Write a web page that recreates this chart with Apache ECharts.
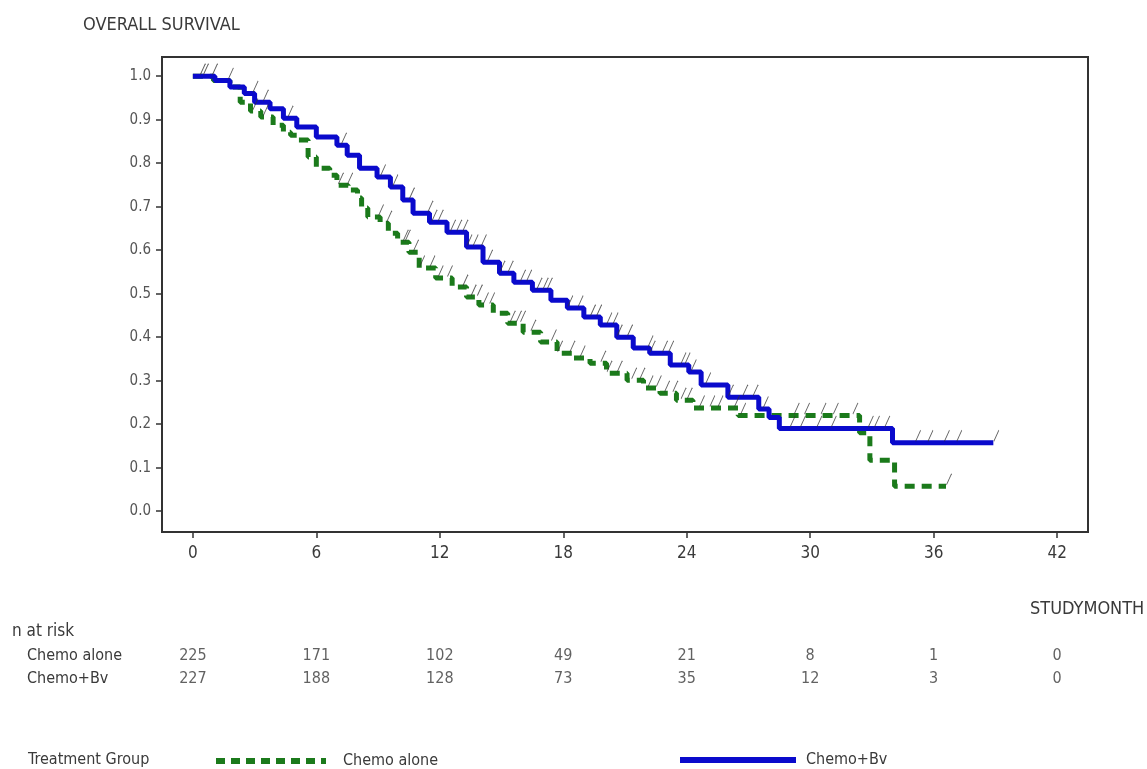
<!DOCTYPE html>
<html>
<head>
<meta charset="utf-8">
<script src="https://cdn.jsdelivr.net/npm/echarts@6/dist/echarts.min.js"></script>
<style>
  html, body { margin: 0; padding: 0; background: #fff; }
  #km { width: 1147px; height: 769px; }
</style>
</head>
<body>
<div id="km"></div>
<script>
// Kaplan-Meier steps: time (months) and survival from that time on
var aloneT = [0, 1.0, 1.8, 2.3, 2.8, 3.3, 3.9, 4.4, 4.75, 5.05, 5.6, 6.0, 6.65, 7.0, 7.55, 8.0, 8.2, 8.5, 9.1, 9.5, 9.95, 10.5, 11.0, 11.8, 12.6, 13.3, 13.9, 14.6, 15.3, 16.05, 16.9, 17.7, 18.5, 19.3, 20.1, 21.1, 21.9, 22.7, 23.5, 24.3, 26.5, 32.4, 32.9, 34.1];
var aloneS = [1.0, 0.99, 0.975, 0.94, 0.92, 0.906, 0.887, 0.871, 0.864, 0.853, 0.814, 0.788, 0.772, 0.749, 0.738, 0.72, 0.697, 0.676, 0.662, 0.639, 0.618, 0.595, 0.559, 0.536, 0.515, 0.492, 0.474, 0.455, 0.432, 0.411, 0.389, 0.363, 0.352, 0.34, 0.317, 0.301, 0.283, 0.271, 0.255, 0.237, 0.22, 0.18, 0.117, 0.057];
var aloneEnd = 36.6;

var bvT = [0, 1.07, 1.8, 2.5, 3.0, 3.75, 4.4, 5.05, 6.0, 7.0, 7.5, 8.1, 8.95, 9.6, 10.2, 10.7, 11.5, 12.35, 13.3, 14.1, 14.9, 15.6, 16.5, 17.4, 18.2, 19.0, 19.8, 20.6, 21.4, 22.2, 23.2, 24.1, 24.7, 26.0, 27.5, 28.0, 28.5, 34.0];
var bvS = [1.0, 0.99, 0.975, 0.96, 0.94, 0.925, 0.903, 0.883, 0.86, 0.841, 0.818, 0.788, 0.768, 0.745, 0.715, 0.685, 0.664, 0.641, 0.607, 0.572, 0.547, 0.526, 0.508, 0.485, 0.467, 0.446, 0.428, 0.4, 0.375, 0.363, 0.336, 0.32, 0.29, 0.262, 0.235, 0.215, 0.19, 0.157];
var bvEnd = 38.9;

// censored times (months)
var aloneCens = [2.9, 3.4, 7.05, 7.5, 9.0, 9.4, 10.2, 10.3, 10.7, 11.0, 11.5, 11.9, 12.35, 13.1, 13.5, 13.8, 14.1, 14.4, 15.4, 15.7, 15.9, 16.4, 17.4, 17.7, 18.3, 18.8, 19.8, 20.1, 20.6, 21.3, 21.7, 22.1, 22.5, 22.9, 23.3, 23.7, 24.0, 24.6, 25.1, 25.5, 26.3, 26.6, 29.2, 29.7, 30.5, 31.1, 32.05, 36.6];
var bvCens = [0.34, 0.49, 0.93, 1.7, 2.9, 3.4, 4.6, 7.2, 9.1, 9.7, 10.5, 11.4, 11.6, 11.9, 12.5, 12.8, 13.1, 13.3, 13.6, 14.0, 14.3, 14.9, 15.3, 15.9, 16.2, 16.7, 17.0, 17.2, 18.2, 18.7, 19.3, 19.6, 20.1, 20.4, 20.6, 21.1, 22.1, 22.2, 22.8, 23.1, 23.7, 23.9, 24.2, 24.9, 26.0, 26.7, 27.2, 27.7, 29.0, 29.5, 30.3, 31.0, 32.8, 33.1, 33.6, 35.1, 35.7, 36.5, 37.1, 38.9];

var xTicks = [0, 6, 12, 18, 24, 30, 36, 42];
var yTicks = [0, 0.1, 0.2, 0.3, 0.4, 0.5, 0.6, 0.7, 0.8, 0.9, 1.0];
var groups = ['Chemo alone', 'Chemo+Bv'];
var atRiskAlone = [225, 171, 102, 49, 21, 8, 1, 0];
var atRiskBv = [227, 188, 128, 73, 35, 12, 3, 0];

var font = '"Liberation Sans Narrow", "DejaVu Sans Condensed", "Liberation Sans", sans-serif';
var ink = '#3a3a3a';
var green = '#1b7a1b';
var blue = '#0a0acc';

function steps(t, s, end) {
    var out = [];
    for (var i = 0; i < t.length; i++) out.push([t[i], s[i]]);
    out.push([end, s[s.length - 1]]);
    return out;
}
function survAt(t, s, x) {
    var v = s[0];
    for (var i = 0; i < t.length; i++) if (t[i] <= x) v = s[i];
    return v;
}
function censData(cens, t, s) {
    return cens.map(function (c) { return [c, survAt(t, s, c)]; });
}
function riskData(counts, row) {
    return counts.map(function (n, i) { return [xTicks[i], row, n]; });
}

var censMark = {
    type: 'scatter',
    symbol: 'path://M0,10L4,0',
    symbolSize: [5, 11],
    symbolOffset: [3, -7],
    itemStyle: { color: 'none', borderColor: '#333', borderWidth: 1 },
    silent: true,
    z: 4
};

var riskLabel = {
    type: 'scatter',
    xAxisIndex: 1,
    yAxisIndex: 1,
    symbolSize: 1,
    itemStyle: { color: 'rgba(0,0,0,0)' },
    label: {
        show: true,
        position: 'inside',
        formatter: function (p) { return p.value[2]; },
        fontFamily: font,
        fontSize: 16,
        color: ink
    },
    silent: true
};

var chart = echarts.init(document.getElementById('km'));
chart.setOption({
    animation: false,
    backgroundColor: '#fff',
    textStyle: { fontFamily: font },
    grid: [
        { left: 162, top: 57, width: 926, height: 475, show: true, borderColor: '#333', borderWidth: 2, backgroundColor: '#fff', z: 0 },
        { left: 162, top: 645, width: 926, height: 45 }
    ],
    xAxis: [
        {
            type: 'value', gridIndex: 0, min: -1.5, max: 43.5, z: 5,
            axisLine: { show: true, onZero: false, lineStyle: { color: '#333', width: 2 } },
            splitLine: { show: false },
            axisTick: { show: true, length: 6, customValues: xTicks, lineStyle: { color: '#333', width: 1.5 } },
            axisLabel: { customValues: xTicks, margin: 13, fontSize: 17, color: ink, fontFamily: font }
        },
        { type: 'value', gridIndex: 1, min: -1.5, max: 43.5, show: false }
    ],
    yAxis: [
        {
            type: 'value', gridIndex: 0, min: -0.048, max: 1.044, z: 5,
            axisLine: { show: true, onZero: false, lineStyle: { color: '#333', width: 2 } },
            splitLine: { show: false },
            axisTick: { show: true, length: 6, customValues: yTicks, lineStyle: { color: '#333', width: 1.5 } },
            axisLabel: {
                customValues: yTicks, margin: 11, fontSize: 15, color: '#555', fontFamily: font,
                formatter: function (v) { return v.toFixed(1); }
            }
        },
        {
            type: 'category', gridIndex: 1, data: groups, inverse: true,
            axisLine: { show: false }, axisTick: { show: false },
            axisLabel: { align: 'left', margin: 135, fontSize: 16, color: ink, fontFamily: font }
        }
    ],
    legend: [
        {
            data: ['Chemo alone'], left: 208, top: 748, itemWidth: 110, itemHeight: 14,
            itemStyle: { opacity: 0 },
            lineStyle: { width: 6, type: [9, 6], color: green },
            textStyle: { fontSize: 16, color: ink, padding: [0, 0, 0, 12] }
        },
        {
            data: ['Chemo+Bv'], left: 672, top: 747, itemWidth: 116, itemHeight: 14,
            itemStyle: { opacity: 0 },
            lineStyle: { width: 6, color: blue },
            textStyle: { fontSize: 16, color: ink, padding: [0, 0, 0, 5] }
        }
    ],
    graphic: [
        { type: 'text', left: 83, top: 16, style: { text: 'OVERALL SURVIVAL', fontSize: 18, fill: ink, fontFamily: font } },
        { type: 'text', left: 1030, top: 600, style: { text: 'STUDYMONTH', fontSize: 18, fill: ink, fontFamily: font } },
        { type: 'text', left: 12, top: 623, style: { text: 'n at risk', fontSize: 17, fill: ink, fontFamily: font } },
        { type: 'text', left: 28, top: 752, style: { text: 'Treatment Group', fontSize: 16, fill: ink, fontFamily: font } }
    ],
    series: [
        {
            name: 'Chemo alone', type: 'line', step: 'end', symbol: 'none',
            data: steps(aloneT, aloneS, aloneEnd),
            lineStyle: { color: green, width: 5, type: [10, 7] },
            itemStyle: { color: green },
            z: 2
        },
        {
            name: 'Chemo+Bv', type: 'line', step: 'end', symbol: 'none',
            data: steps(bvT, bvS, bvEnd),
            lineStyle: { color: blue, width: 5 },
            itemStyle: { color: blue },
            z: 3
        },
        Object.assign({ name: 'cens alone', data: censData(aloneCens, aloneT, aloneS) }, censMark),
        Object.assign({ name: 'cens bv', data: censData(bvCens, bvT, bvS) }, censMark),
        Object.assign({ name: 'risk alone', data: riskData(atRiskAlone, groups[0]) }, riskLabel),
        Object.assign({ name: 'risk bv', data: riskData(atRiskBv, groups[1]) }, riskLabel)
    ]
});
</script>
</body>
</html>
